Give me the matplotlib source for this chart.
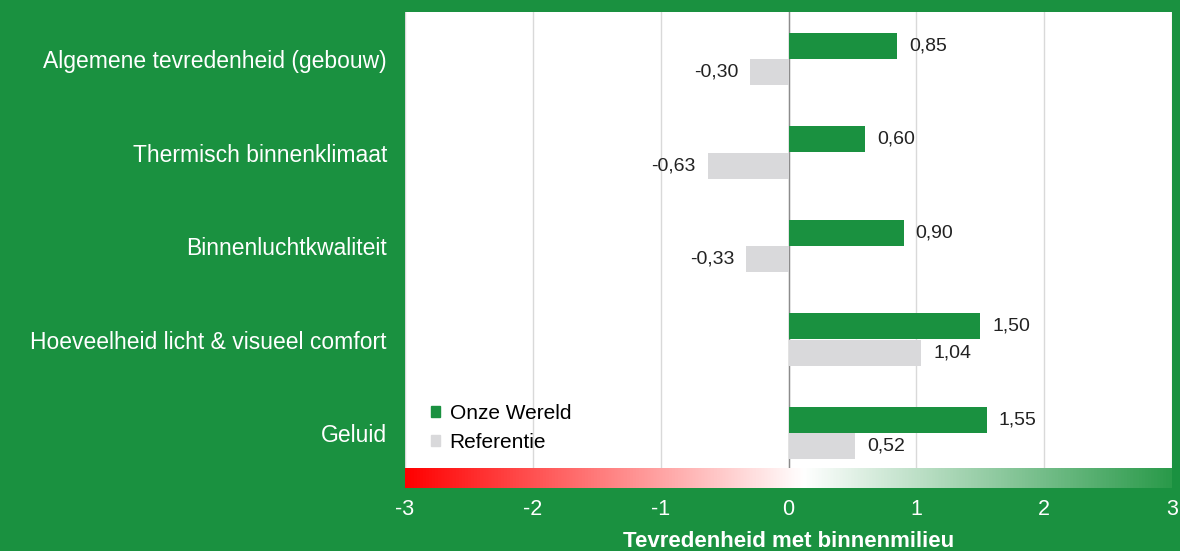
import numpy as np
import matplotlib.pyplot as plt
from matplotlib.colors import LinearSegmentedColormap
from matplotlib.patches import Patch

plt.rcParams['font.family'] = ['Liberation Sans', 'DejaVu Sans']

categories = ["Algemene tevredenheid (gebouw)", "Thermisch binnenklimaat",
              "Binnenluchtkwaliteit", "Hoeveelheid licht & visueel comfort", "Geluid"]
onze_wereld = [0.85, 0.60, 0.90, 1.50, 1.55]
referentie = [-0.30, -0.63, -0.33, 1.04, 0.52]
series_names = ["Onze Wereld", "Referentie"]
xticks = [-3, -2, -1, 0, 1, 2, 3]

bg = "#1a9140"
green = "#1a9140"
grey = "#d9d9db"

fig = plt.figure(figsize=(11.8, 5.51), dpi=100)
fig.patch.set_facecolor(bg)

ax = fig.add_axes([405/1180, 83/551, 767/1180, 456/551])
ax.set_facecolor("white")
y = np.arange(len(categories))
h = 0.278
ax.barh(y - 0.14, onze_wereld, height=h, color=green, zorder=3)
ax.barh(y + 0.14, referentie, height=h, color=grey, zorder=3)

def fmt(v):
    return f"{v:.2f}".replace(".", ",")

for vals, off in [(onze_wereld, -0.14), (referentie, 0.14)]:
    for i, v in enumerate(vals):
        if v >= 0:
            ax.text(v + 0.095, i + off, fmt(v), ha="left", va="center", fontsize=14, color="#222222", zorder=4)
        else:
            ax.text(v - 0.095, i + off, fmt(v), ha="right", va="center", fontsize=14, color="#222222", zorder=4)

ax.set_xlim(-3, 3)
ax.set_ylim(4.374, -0.503)
ax.set_xticks(xticks)
ax.grid(axis="x", color="#d9d9d9", linewidth=1, zorder=0)
ax.axvline(0, color="#8c8c8c", linewidth=1, zorder=2)
ax.tick_params(axis="x", bottom=False, labelbottom=False)
ax.set_yticks(y)
ax.set_yticklabels(categories, color="white", fontsize=16.5)
ax.tick_params(axis="y", length=0, pad=13)
for s in ax.spines.values():
    s.set_visible(False)

handles = [Patch(color=green), Patch(color=grey)]
ax.legend(handles, series_names, loc="center left", bbox_to_anchor=(0.02, 0.088),
          frameon=False, fontsize=15, handlelength=0.45, handleheight=0.45,
          handletextpad=0.45, labelspacing=0.5, borderpad=0)

gax = fig.add_axes([405/1180, 63/551, 767/1180, 20/551])
cmap = LinearSegmentedColormap.from_list("rw", [(0, "#ff0000"), (0.52, "#ffffff"), (1, "#2a9a4a")])
grad = np.linspace(0, 1, 512).reshape(1, -1)
gax.imshow(grad, aspect="auto", cmap=cmap, extent=(-3, 3, 0, 1))
gax.set_xlim(-3, 3)
gax.set_xticks(xticks)
gax.set_xticklabels([str(t) for t in xticks], color="white", fontsize=15.5)
gax.tick_params(axis="x", length=0, pad=8)
gax.set_yticks([])
for s in gax.spines.values():
    s.set_visible(False)
gax.set_xlabel("Tevredenheid met binnenmilieu", color="white", fontsize=16, fontweight="bold", labelpad=8)

fig.savefig("out.png", dpi=100, facecolor=bg)
